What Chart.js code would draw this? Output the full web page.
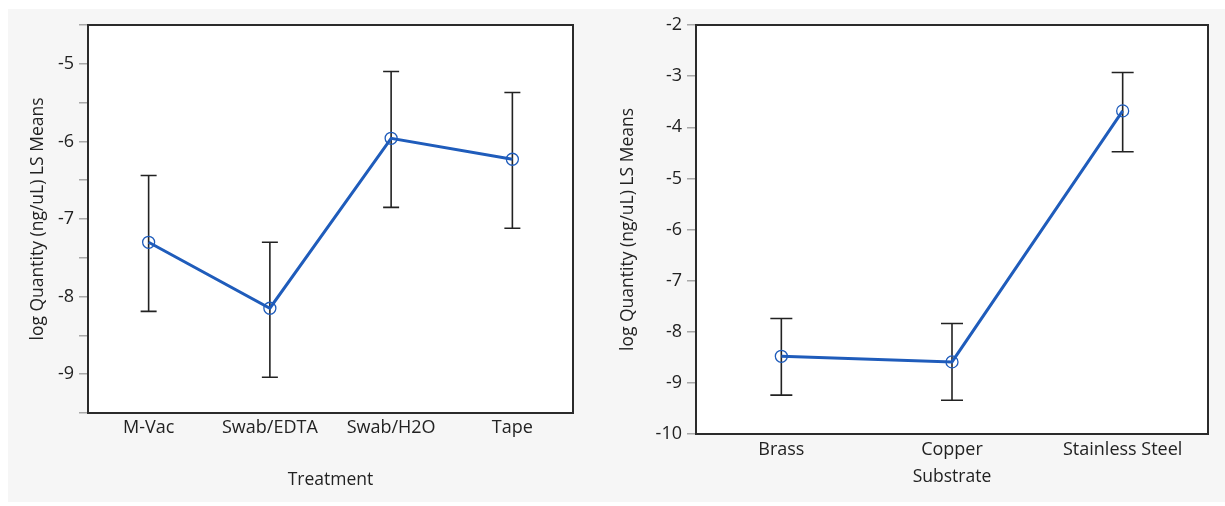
<!DOCTYPE html>
<html>
<head>
<meta charset="utf-8">
<script src="https://cdn.jsdelivr.net/npm/chart.js@4.4.1/dist/chart.umd.min.js"></script>
<style>
  html, body { margin: 0; padding: 0; background: #fff; }
  #wrap { position: relative; width: 1225px; height: 506px; overflow: hidden; }
  #panel { position: absolute; left: 8px; top: 9px; width: 1217px; height: 493px; background: #f6f6f6; }
  #leftBox { position: absolute; left: 0; top: 0; width: 610px; height: 506px; }
  #rightBox { position: absolute; left: 610px; top: 0; width: 615px; height: 506px; }
</style>
</head>
<body>
<div id="wrap">
  <div id="panel"></div>
  <div id="leftBox"><canvas id="leftChart" width="610" height="506"></canvas></div>
  <div id="rightBox"><canvas id="rightChart" width="615" height="506"></canvas></div>
</div>
<script>
// LS means with error bar ends
var treatments = ['M-Vac', 'Swab/EDTA', 'Swab/H2O', 'Tape'];
var treatmentMeans = [-7.30, -8.15, -5.96, -6.23];
var treatmentLow = [-8.19, -9.04, -6.85, -7.12];
var treatmentHigh = [-6.44, -7.30, -5.10, -5.37];

var substrates = ['Brass', 'Copper', 'Stainless Steel'];
var substrateMeans = [-8.48, -8.59, -3.68];
var substrateLow = [-9.24, -9.34, -4.48];
var substrateHigh = [-7.74, -7.84, -2.93];

var yTitle = 'log Quantity (ng/uL) LS Means';
var fontFamily = '"Open Sans", "Noto Sans", sans-serif';
var lineBlue = '#1f5cbb';

// white plot area + dark frame
var frameBox = {
  id: 'frameBox',
  beforeDraw: function (chart) {
    var a = chart.chartArea, ctx = chart.ctx;
    ctx.save();
    ctx.fillStyle = '#ffffff';
    ctx.fillRect(a.left, a.top, a.right - a.left, a.bottom - a.top);
    ctx.restore();
  },
  beforeDatasetsDraw: function (chart) {
    var a = chart.chartArea, ctx = chart.ctx;
    ctx.save();
    ctx.strokeStyle = '#2b2b2b';
    ctx.lineWidth = 2;
    ctx.strokeRect(a.left, a.top, a.right - a.left, a.bottom - a.top);
    ctx.restore();
  }
};

// error bars drawn through the chart scales
var errorBars = {
  id: 'errorBars',
  beforeDatasetsDraw: function (chart, args, opts) {
    var ctx = chart.ctx, xs = chart.scales.x, ys = chart.scales.y;
    ctx.save();
    ctx.strokeStyle = '#222';
    ctx.lineWidth = 1.6;
    for (var i = 0; i < opts.low.length; i++) {
      var x = xs.getPixelForValue(i);
      var y1 = ys.getPixelForValue(opts.low[i]);
      var y2 = ys.getPixelForValue(opts.high[i]);
      var w = opts.cap / 2;
      ctx.beginPath();
      ctx.moveTo(x, y1); ctx.lineTo(x, y2);
      ctx.moveTo(x - w, y1); ctx.lineTo(x + w, y1);
      ctx.moveTo(x - w, y2); ctx.lineTo(x + w, y2);
      ctx.stroke();
    }
    ctx.restore();
  }
};

function makeChart(id, labels, means, low, high, cfg) {
  return new Chart(document.getElementById(id), {
    type: 'line',
    data: {
      labels: labels,
      datasets: [{
        data: means,
        borderColor: lineBlue,
        borderWidth: 3,
        pointRadius: 6,
        pointBorderWidth: 1.3,
        pointBorderColor: lineBlue,
        pointBackgroundColor: 'rgba(0,0,0,0)',
        tension: 0
      }]
    },
    options: {
      responsive: false,
      animation: false,
      layout: { padding: { left: 0, top: 25, right: cfg.padRight, bottom: 0 } },
      plugins: {
        legend: { display: false },
        tooltip: { enabled: false },
        errorBars: { low: low, high: high, cap: cfg.cap }
      },
      scales: {
        x: {
          offset: true,
          afterFit: function (s) { s.height = cfg.xHeight; },
          grid: { display: false, drawTicks: false },
          border: { display: false },
          ticks: { color: '#222', padding: cfg.xTickPad, font: { family: fontFamily, size: 18 }, maxRotation: 0, autoSkip: false },
          title: { display: true, text: cfg.xTitle, color: '#222', font: { family: fontFamily, size: 17.5 }, padding: { top: 0, bottom: cfg.xTitlePad } }
        },
        y: {
          min: cfg.min, max: cfg.max,
          afterFit: function (s) { s.width = cfg.yWidth; },
          grid: { drawOnChartArea: false, drawTicks: true, tickLength: 9, color: '#a8a8a8', lineWidth: 1.5 },
          border: { display: false },
          ticks: {
            stepSize: cfg.step, color: '#222', padding: 5,
            font: { family: fontFamily, size: 18 },
            callback: function (v) { return Number.isInteger(v) ? String(v) : ''; }
          },
          title: { display: true, text: yTitle, color: '#222', font: { family: fontFamily, size: 17.5 }, padding: { top: cfg.yTitlePad, bottom: 0 } }
        }
      }
    },
    plugins: [frameBox, errorBars]
  });
}

makeChart('leftChart', treatments, treatmentMeans, treatmentLow, treatmentHigh, {
  min: -9.5, max: -4.5, step: 0.5, yWidth: 88, padRight: 37, xHeight: 93,
  xTickPad: 4, xTitle: 'Treatment', xTitlePad: 15.5, yTitlePad: 27.5, cap: 16
});
makeChart('rightChart', substrates, substrateMeans, substrateLow, substrateHigh, {
  min: -10, max: -2, step: 1, yWidth: 86, padRight: 17, xHeight: 72,
  xTickPad: 5, xTitle: 'Substrate', xTitlePad: 18, yTitlePad: 7.5, cap: 22
});
</script>
</body>
</html>
